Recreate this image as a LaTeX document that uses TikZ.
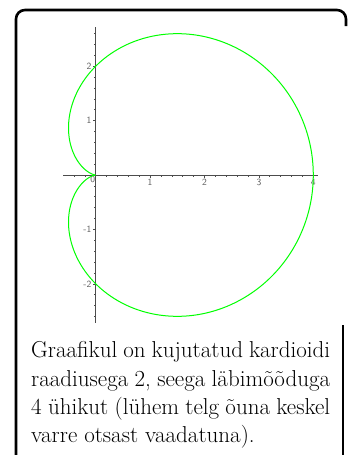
\documentclass[tikz,border=0pt]{standalone}
\usepackage{fontspec}
\usepackage{tikz}

\begin{document}
\begin{tikzpicture}[
    x=1pt, y=-1pt,
    frame/.style={line width=2.6pt, black},
    axisline/.style={gray!60!black, line width=0.8pt},
    tickmark/.style={gray!60!black, line width=0.6pt},
    ticklabel/.style={font=\fontsize{9.5}{9.5}\sffamily, text=gray!70!black, inner sep=1pt},
    curve/.style={green, line width=1pt},
    caption/.style={text width=299pt, align=justify, inner sep=0pt, font=\fontsize{23}{28.3}\selectfont}
  ]
    \useasboundingbox (0,0) rectangle (350,455);
    % broken frame
    \draw[frame, rounded corners=9pt] (16,465) -- (16,10) -- (346,10) -- (346,26);
    \draw[frame] (343,325) -- (343,465);

    % the plot
    \begin{scope}[shift={(95.7,175)}, x=54.4pt, y=54.4pt]
      \draw[axisline] (-0.6,0) -- (4.09,0);
      \draw[axisline] (0,-2.72) -- (0,2.72);
      \foreach \i in {-2,...,20}
        \draw[tickmark] (\i/5,0) -- ++(0,-2pt);
      \foreach \i in {-13,...,13}
        \draw[tickmark] (0,\i/5) -- ++(-2pt,0);
      \foreach \i in {1,...,4}
        \draw[tickmark] (\i,0) -- ++(0,-3pt) node[ticklabel, below] {\i};
      \foreach \i in {-2,-1,1,2}
        \draw[tickmark] (0,\i) -- ++(-3pt,0) node[ticklabel, left] {\i};
      \node[ticklabel, below left, inner sep=0.5pt] (zero) at (0,0) {0};
      \draw[curve, domain=0:360, samples=240, smooth, variable=\t]
        plot ({2*(1+cos(\t))*cos(\t)}, {2*(1+cos(\t))*sin(\t)});
    \end{scope}

    \node[caption, anchor=north west] (text) at (31,341.5)
      {Graafikul on kujutatud kardioidi\linebreak
       raadiusega 2, seega läbimõõduga\linebreak
       4 ühikut (lühem telg õuna keskel\linebreak
       varre otsast vaadatuna).};
\end{tikzpicture}
\end{document}
